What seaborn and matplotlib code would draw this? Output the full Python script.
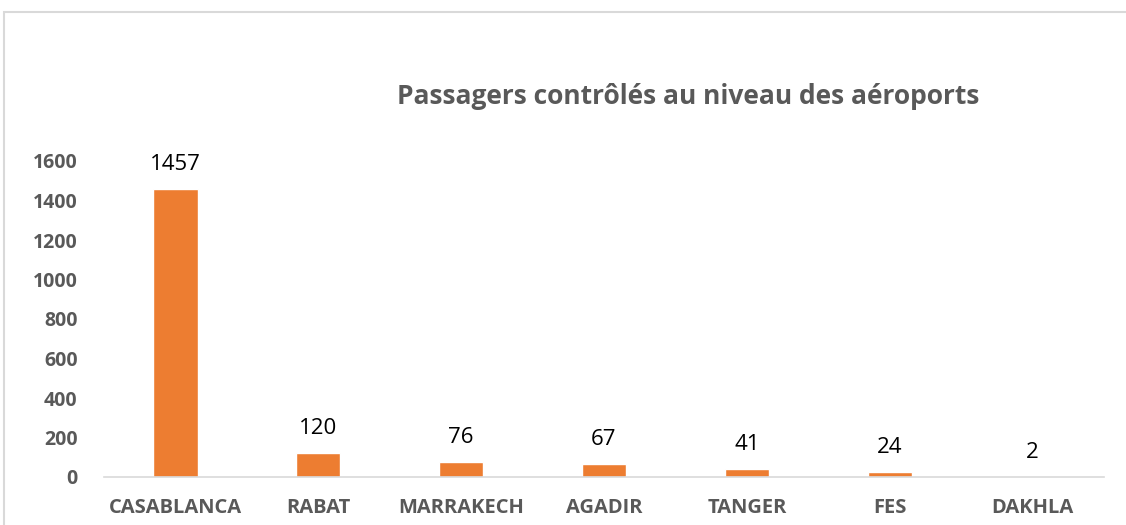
import matplotlib
matplotlib.use("Agg")
import matplotlib.pyplot as plt
import seaborn as sns
import pandas as pd
from matplotlib.patches import Rectangle

# Donnees
aeroports = ["CASABLANCA", "RABAT", "MARRAKECH", "AGADIR", "TANGER", "FES", "DAKHLA"]
passagers = [1457, 120, 76, 67, 41, 24, 2]
yticks = [0, 200, 400, 600, 800, 1000, 1200, 1400, 1600]

df = pd.DataFrame({"aeroport": aeroports, "passagers": passagers})

sns.set_theme(style="white")
plt.rcParams["font.family"] = ["Open Sans", "DejaVu Sans"]

fig = plt.figure(figsize=(11.26, 5.25), dpi=100)
ax = fig.add_axes([104 / 1126, 1 - 477 / 525, 1000 / 1126, (477 - 161) / 525])

sns.barplot(data=df, x="aeroport", y="passagers", color="#ED7D31",
            width=0.31, saturation=1, ax=ax)

ax.set_ylim(0, 1600)
ax.set_yticks(yticks)
ax.set_xlim(-0.5, len(aeroports) - 0.5)
ax.set_xlabel("")
ax.set_ylabel("")
for s in ["top", "right", "left"]:
    ax.spines[s].set_visible(False)
ax.spines["bottom"].set_color("#d9d9d9")
ax.spines["bottom"].set_linewidth(1.2)
ax.tick_params(axis="both", length=0, labelcolor="#595959")
ax.tick_params(axis="x", pad=15, labelsize=14.5)
ax.tick_params(axis="y", pad=19, labelsize=14)
for lbl in ax.get_xticklabels() + ax.get_yticklabels():
    lbl.set_fontweight("bold")

ax.bar_label(ax.containers[0], labels=[str(v) for v in passagers],
             padding=10, fontsize=16, color="black")

fig.text(688 / 1126, 1 - 97 / 525, "Passagers contrôlés au niveau des aéroports",
         ha="center", va="center", fontsize=19, fontweight="bold", color="#595959")

# cadre du graphique
fig.patches.append(Rectangle((4 / 1126, -0.1), 1.2, 1 - 12 / 525 + 0.1,
                             transform=fig.transFigure, fill=False,
                             edgecolor="#d9d9d9", linewidth=1.5))

fig.savefig("out.png", dpi=100)
